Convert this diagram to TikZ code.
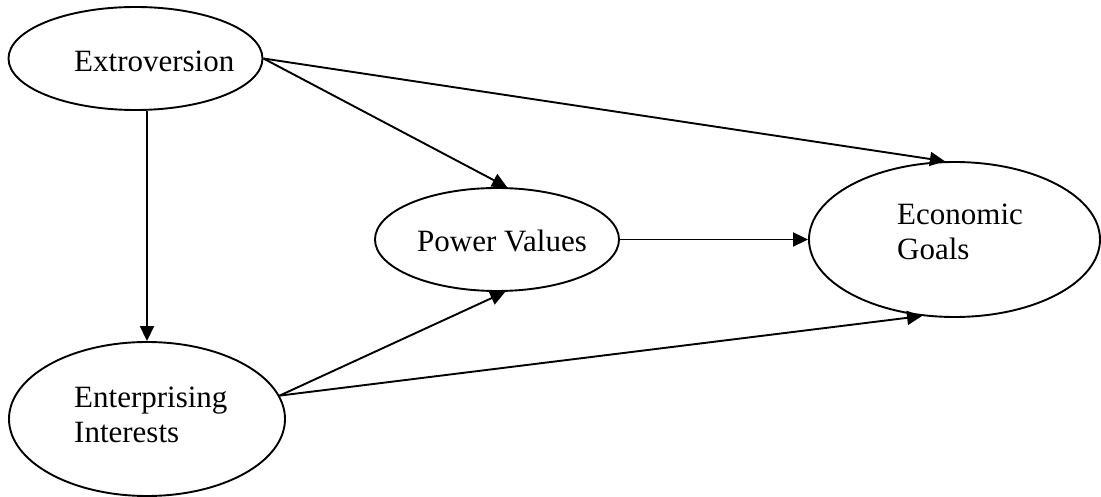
\documentclass[tikz,border=0pt]{standalone}
\usepackage{fontspec}
\setmainfont{Liberation Serif}
\usetikzlibrary{shapes.geometric,arrows.meta,calc}

\tikzset{
  construct/.style={draw=black, line width=1.9pt, ellipse, inner sep=0pt, fill=white},
  caption/.style={anchor=base west, inner sep=0pt, font=\fontsize{31}{35}\selectfont},
  path/.style={draw=black, line width=1.9pt, -{Triangle[length=15pt,width=14pt]}}
}

\begin{document}
\begin{tikzpicture}[x=1pt, y=-1pt]
  \useasboundingbox (0,0) rectangle (1101,497);

  % latent constructs
  \node[construct, minimum width=254pt, minimum height=103pt] (ext) at (135.5,58.5) {};
  \node[construct, minimum width=276pt, minimum height=154pt] (ent) at (147,419) {};
  \node[construct, minimum width=244pt, minimum height=103pt] (pv)  at (497,239.5) {};
  \node[construct, minimum width=291pt, minimum height=155pt] (eg)  at (954.5,239.5) {};

  % labels
  \node[caption] (extT)  at (74,72)   {Extroversion};
  \node[caption] (entT1) at (74,407)  {Enterprising};
  \node[caption] (entT2) at (74,442)  {Interests};
  \node[caption] (pvT)   at (417,252) {Power Values};
  \node[caption] (egT1)  at (897,225) {Economic};
  \node[caption] (egT2)  at (897,260) {Goals};

  % paths
  \draw[path] (ent.north |- ext.south) -- (ent.north);
  \draw[path] (ext.east) -- (pv.79);
  \draw[path] (ext.east) -- (eg.97);
  \draw[path] (pv.east) -- (eg.west);
  \draw[path] (ent.10) -- (pv.279);
  \draw[path] (ent.10) -- (eg.247);
\end{tikzpicture}
\end{document}
